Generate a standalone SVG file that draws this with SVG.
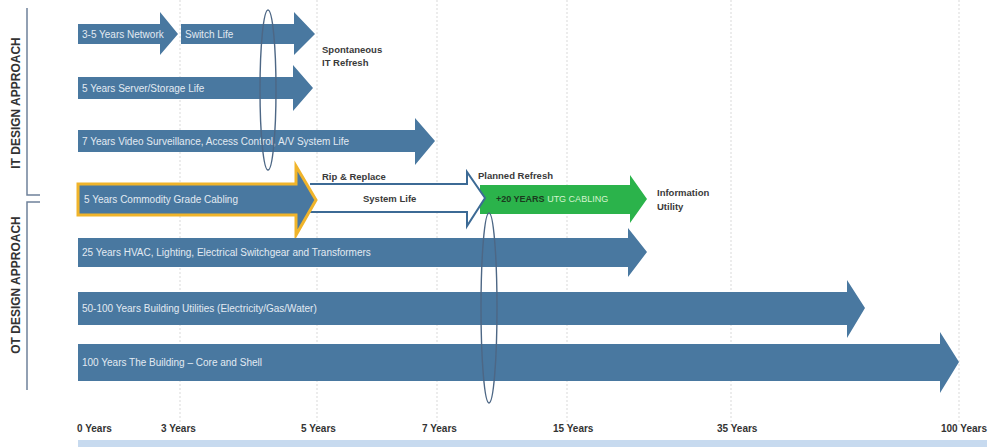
<svg xmlns="http://www.w3.org/2000/svg" width="993" height="447" viewBox="0 0 993 447">
<style>
.grid{stroke:#d9d9d9;stroke-width:1;stroke-dasharray:2 2;fill:none}
.bar{fill:#4978a0}
.in{font-family:"Liberation Sans",Arial,sans-serif;font-size:10px;fill:#e2eaf2}
.lbl{font-family:"Liberation Sans",Arial,sans-serif;font-size:9.5px;font-weight:bold;fill:#3a3a3a}
.ax{font-family:"Liberation Sans",Arial,sans-serif;font-size:10px;font-weight:bold;fill:#333}
.side{font-family:"Liberation Sans",Arial,sans-serif;font-size:12px;font-weight:bold;fill:#333;text-anchor:middle}
.brk{stroke:#6f819a;stroke-width:1.5;fill:none}
.ell{stroke:#4d6785;stroke-width:1.4;fill:none}
</style>
<rect width="993" height="447" fill="#ffffff"/>
<g id="grid">
<line class="grid" x1="180" y1="0" x2="180" y2="425"/>
<line class="grid" x1="317" y1="0" x2="317" y2="425"/>
<line class="grid" x1="437" y1="0" x2="437" y2="425"/>
<line class="grid" x1="567" y1="0" x2="567" y2="425"/>
<line class="grid" x1="731" y1="0" x2="731" y2="425"/>
<line class="grid" x1="959" y1="0" x2="959" y2="425"/>
</g>
<g id="side-labels">
<path class="brk" d="M27 8 V195 H40"/>
<path class="brk" d="M40 202 H27 V390"/>
<text class="side" transform="translate(20,103) rotate(-90)">IT DESIGN APPROACH</text>
<text class="side" transform="translate(20,285) rotate(-90)">OT DESIGN APPROACH</text>
</g>
<g id="network">
<path class="bar" d="M78 24 H160 V12 L178 34 L160 55 V44 H78 Z"/>
<text class="in" x="82" y="37.5">3-5 Years Network</text>
</g>
<g id="switch">
<path class="bar" d="M181 24 H294 V12 L315 34 L294 55 V44 H181 Z"/>
<text class="in" x="185" y="37.5">Switch Life</text>
</g>
<g id="server">
<path class="bar" d="M78 77 H293 V65 L313 88 L293 111 V99 H78 Z"/>
<text class="in" x="82" y="91.5">5 Years Server/Storage Life</text>
</g>
<g id="video">
<path class="bar" d="M78 130 H415 V118 L435 141 L415 165 V152 H78 Z"/>
<text class="in" x="82" y="144.5">7 Years Video Surveillance, Access Control, A/V System Life</text>
</g>
<g id="utg">
<path fill="#2bb34b" d="M480 185 H630 V175 L647 199 L630 223 V214 H480 Z"/>
<text x="496" y="202" font-family="Liberation Sans, Arial, sans-serif" font-size="9px"><tspan font-weight="bold" fill="#1b3a1e">+20 YEARS</tspan><tspan fill="#d6f3cf"> UTG CABLING</tspan></text>
</g>
<g id="system-life">
<path fill="#ffffff" stroke="#3c6a95" stroke-width="2" d="M310 184 H467 V172 L485 198 L467 226 V212 H310"/>
<text class="lbl" x="363" y="201.5">System Life</text>
</g>
<g id="commodity">
<path class="bar" stroke="#f0b42a" stroke-width="3" stroke-linejoin="miter" d="M78 184 H296 V166 L316 200 L296 235 V215 H78 Z"/>
<text class="in" x="84" y="203">5 Years Commodity Grade Cabling</text>
</g>
<g id="hvac">
<path class="bar" d="M78 238 H628 V228 L647 252 L628 277 V267 H78 Z"/>
<text class="in" x="82" y="256">25 Years HVAC, Lighting, Electrical Switchgear and Transformers</text>
</g>
<g id="utilities">
<path class="bar" d="M78 292 H847 V280 L865 308 L847 338 V325 H78 Z"/>
<text class="in" x="82" y="312">50-100 Years Building Utilities (Electricity/Gas/Water)</text>
</g>
<g id="building">
<path class="bar" d="M78 344 H940 V332 L959 362 L940 393 V381 H78 Z"/>
<text class="in" x="82" y="366">100 Years The Building – Core and Shell</text>
</g>
<g id="connectors">
<ellipse class="ell" cx="268" cy="90" rx="8" ry="80"/>
<ellipse class="ell" cx="489" cy="308" rx="8" ry="95"/>
</g>
<g id="notes">
<text class="lbl" x="322" y="52.5">Spontaneous</text>
<text class="lbl" x="322" y="65.5">IT Refresh</text>
<text class="lbl" x="322" y="179.5">Rip &amp; Replace</text>
<text class="lbl" x="478" y="178.5">Planned Refresh</text>
<text class="lbl" x="657" y="196">Information</text>
<text class="lbl" x="657" y="210">Utility</text>
</g>
<g id="axis">
<text class="ax" x="77" y="432">0 Years</text>
<text class="ax" x="161" y="432">3 Years</text>
<text class="ax" x="301" y="432">5 Years</text>
<text class="ax" x="422" y="432">7 Years</text>
<text class="ax" x="553" y="432">15 Years</text>
<text class="ax" x="717" y="432">35 Years</text>
<text class="ax" x="941" y="432">100 Years</text>
<rect x="78" y="440" width="909" height="7" fill="#c7daef"/>
</g>
</svg>
